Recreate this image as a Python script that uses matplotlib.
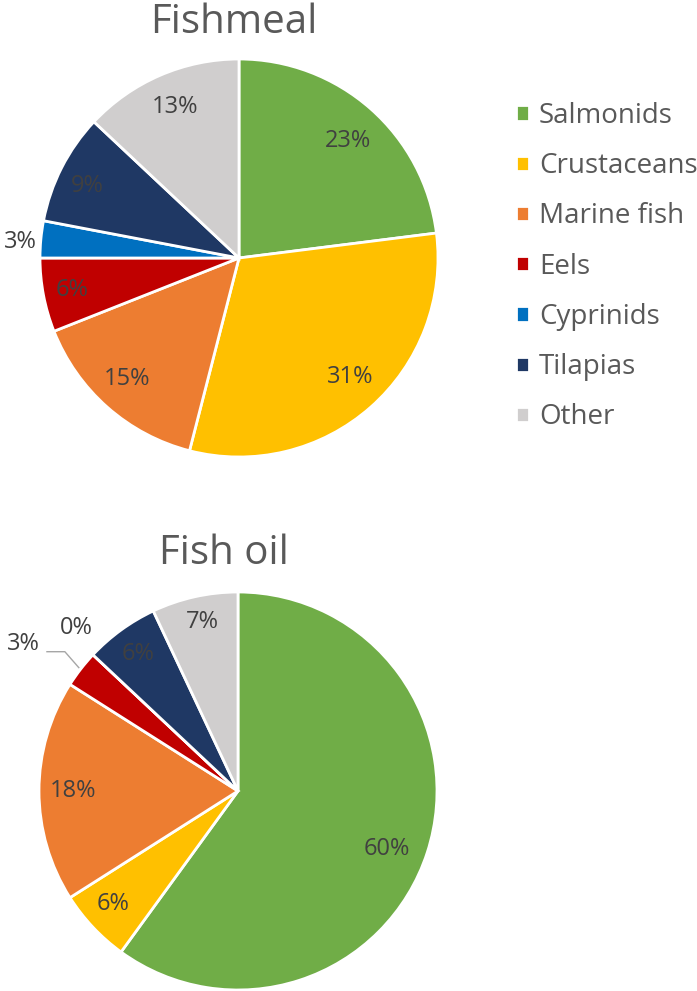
import matplotlib
matplotlib.use('Agg')
import matplotlib.pyplot as plt

plt.rcParams['font.family'] = ['Open Sans', 'DejaVu Sans']

categories = ['Salmonids', 'Crustaceans', 'Marine fish', 'Eels', 'Cyprinids', 'Tilapias', 'Other']
fishmeal = [23, 31, 15, 6, 3, 9, 13]
fish_oil = [60, 6, 18, 3, 0, 6, 7]

colors = ['#70AD47', '#FFC000', '#ED7D31', '#C00000', '#0070C0', '#1F3864', '#D0CECE']
text_col = '#404040'
title_col = '#595959'

# label positions (in pie radius units), like Excel's best fit
fishmeal_pos = [(0.55, 0.59), (0.56, -0.60), (-0.56, -0.61), (-0.84, -0.16),
                (-1.10, 0.08), (-0.76, 0.36), (-0.32, 0.76)]
fish_oil_pos = [(0.75, -0.29), (-0.63, -0.57), (-0.83, 0.0), (-1.08, 0.74),
                (-0.81, 0.82), (-0.50, 0.69), (-0.18, 0.85)]

W, H = 697, 991
fig = plt.figure(figsize=(W / 100, H / 100), dpi=100)


def draw_pie(rect, values, positions):
    ax = fig.add_axes(rect)
    wedges, texts, autotexts = ax.pie(
        values, colors=colors, startangle=90, counterclock=False,
        autopct=lambda p: f'{p:.0f}%',
        wedgeprops=dict(edgecolor='white', linewidth=2),
        textprops=dict(color=text_col, fontsize=17))
    for t, (x, y) in zip(autotexts, positions):
        t.set_position((x, y))
        t.set_ha('center')
        t.set_va('center')
    ax.set_xlim(-1, 1)
    ax.set_ylim(-1, 1)
    ax.set_aspect('equal')
    ax.axis('off')
    return ax, wedges


ax1, wedges = draw_pie([40 / W, (H - 457) / H, 398 / W, 398 / H], fishmeal, fishmeal_pos)
ax2, _ = draw_pie([39 / W, (H - 990) / H, 398 / W, 398 / H], fish_oil, fish_oil_pos)

# leader line for the small Eels slice in fish oil
ax2.plot([-0.96, -0.87, -0.80], [0.70, 0.70, 0.62], color='#a6a6a6', lw=1, clip_on=False)

fig.text(234 / W, (H - 33) / H, 'Fishmeal', fontsize=29, color=title_col,
         ha='center', va='baseline')
fig.text(224 / W, (H - 564) / H, 'Fish oil', fontsize=29, color=title_col,
         ha='center', va='baseline')

fig.legend(wedges, categories, loc='upper left', bbox_to_anchor=(516 / W, (H - 102) / H),
           frameon=False, fontsize=20, labelcolor=title_col,
           handlelength=0.47, handleheight=0.47, handletextpad=0.36,
           labelspacing=0.80, borderpad=0, borderaxespad=0)

fig.savefig('out.png', dpi=100)
